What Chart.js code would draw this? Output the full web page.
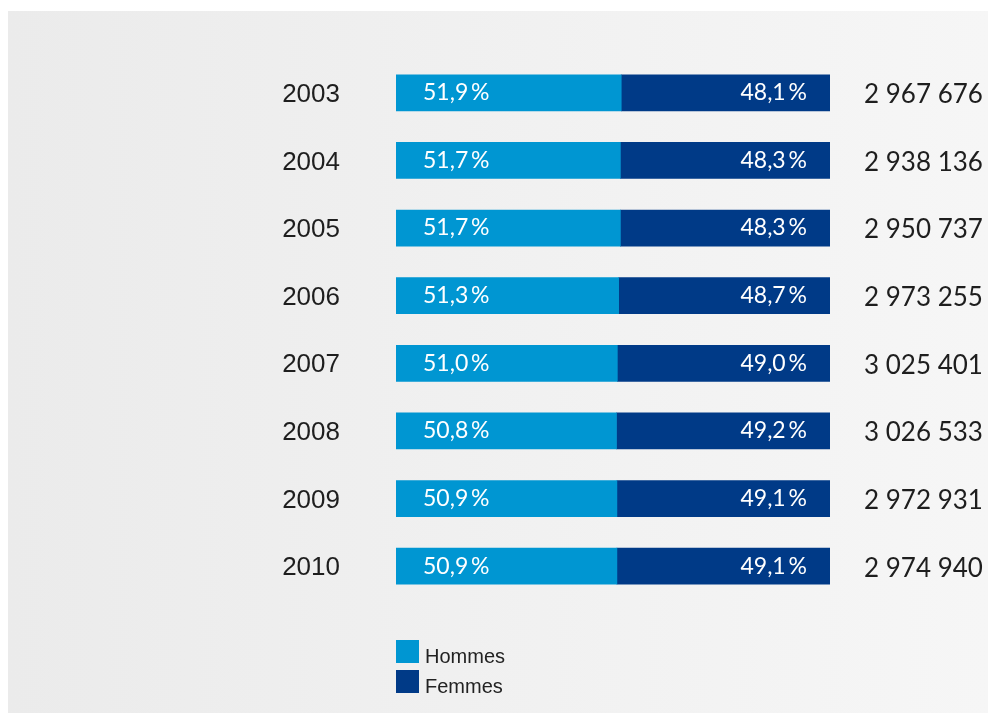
<!DOCTYPE html>
<html>
<head>
<meta charset="utf-8">
<script src="https://cdn.jsdelivr.net/npm/chart.js@4"></script>
<style>
    html, body { margin: 0; padding: 0; background: #ffffff; }
    #wrap { position: absolute; left: 8px; top: 11px; width: 980px; height: 702px; }
</style>
</head>
<body>
<div id="wrap"><canvas id="chart" width="980" height="702"></canvas></div>
<script>
const years = ['2003', '2004', '2005', '2006', '2007', '2008', '2009', '2010'];
const hommes = [51.9, 51.7, 51.7, 51.3, 51.0, 50.8, 50.9, 50.9];
const femmes = [48.1, 48.3, 48.3, 48.7, 49.0, 49.2, 49.1, 49.1];
const totals = ['2 967 676', '2 938 136', '2 950 737', '2 973 255', '3 025 401', '3 026 533', '2 972 931', '2 974 940'];
const seriesNames = ['Hommes', 'Femmes'];
const colors = ['#0096d2', '#003a87'];

function pct(v) {
    return v.toFixed(1).replace('.', ',') + '\u2009%';
}

const decor = {
    id: 'decor',
    beforeDraw: function (chart) {
        const ctx = chart.ctx;
        const g = ctx.createLinearGradient(0, 0, chart.width, 0);
        g.addColorStop(0, '#ebebeb');
        g.addColorStop(1, '#f6f6f6');
        ctx.save();
        ctx.fillStyle = g;
        ctx.fillRect(0, 0, chart.width, chart.height);
        ctx.restore();
    },
    afterDatasetsDraw: function (chart) {
        const ctx = chart.ctx;
        const area = chart.chartArea;
        const yScale = chart.scales.y;
        ctx.save();
        ctx.textBaseline = 'middle';
        for (let i = 0; i < years.length; i++) {
            const y = yScale.getPixelForValue(i);
            ctx.fillStyle = '#1e1e1e';
            ctx.font = '26px "Liberation Sans", Arial, sans-serif';
            ctx.textAlign = 'right';
            ctx.fillText(years[i], area.left - 56, y + 2);

            ctx.font = '26px Lato, "Noto Sans", sans-serif';
            ctx.textAlign = 'left';
            ctx.fillText(totals[i], area.right + 34, y + 2);

            ctx.fillStyle = '#ffffff';
            ctx.font = '23px Lato, "Noto Sans", sans-serif';
            ctx.textAlign = 'left';
            ctx.fillText(pct(hommes[i]), area.left + 27, y);
            ctx.textAlign = 'right';
            ctx.fillText(pct(femmes[i]), area.right - 23, y);
        }
        // legend
        ctx.font = '20px "Liberation Sans", Arial, sans-serif';
        ctx.textAlign = 'left';
        for (let k = 0; k < seriesNames.length; k++) {
            const top = 629 + k * 30;
            ctx.fillStyle = colors[k];
            ctx.fillRect(area.left, top, 23, 23);
            ctx.fillStyle = '#222222';
            ctx.fillText(seriesNames[k], area.left + 29, top + 17);
        }
        ctx.restore();
    }
};

new Chart(document.getElementById('chart'), {
    type: 'bar',
    data: {
        labels: years,
        datasets: [
            {
                label: seriesNames[0],
                data: hommes,
                backgroundColor: colors[0],
                barThickness: 36
            },
            {
                label: seriesNames[1],
                data: femmes,
                backgroundColor: colors[1],
                barThickness: 36
            }
        ]
    },
    options: {
        indexAxis: 'y',
        responsive: false,
        animation: false,
        layout: {
            padding: { left: 388, right: 158, top: 48, bottom: 113 }
        },
        plugins: {
            legend: { display: false },
            tooltip: { enabled: false }
        },
        scales: {
            x: { stacked: true, min: 0, max: 100, display: false },
            y: { stacked: true, display: false }
        }
    },
    plugins: [decor]
});
</script>
</body>
</html>
